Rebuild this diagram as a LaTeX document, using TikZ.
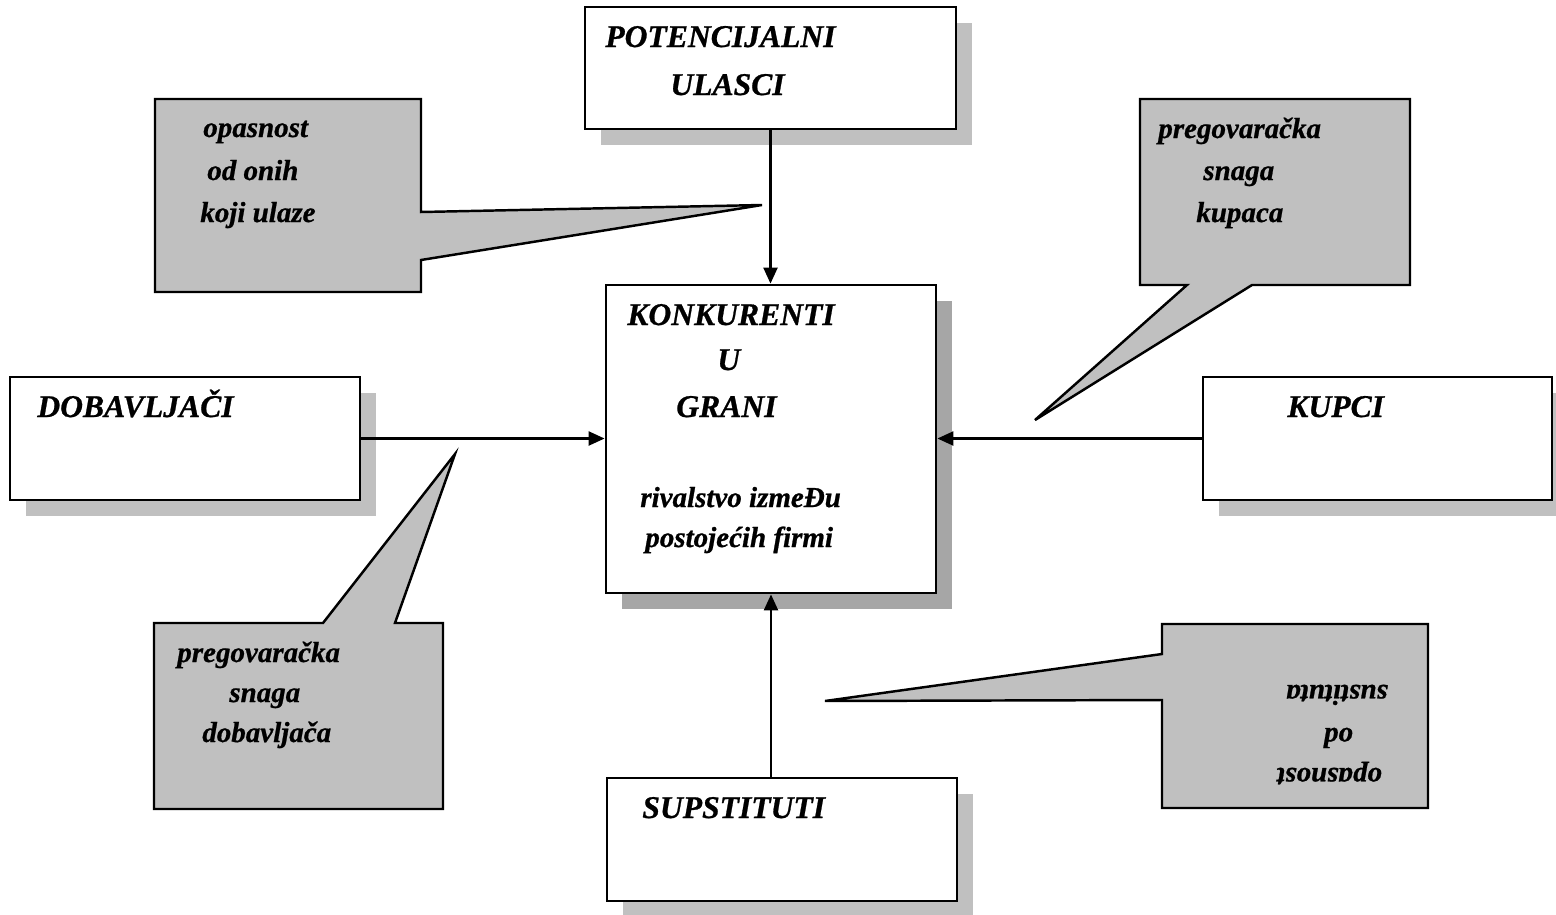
\documentclass[tikz,border=0pt]{standalone}
\usepackage{fontspec}
\setmainfont{Liberation Serif}[BoldItalicFeatures={FakeBold=0.8}]
\usetikzlibrary{fit,shadows,arrows.meta}
\definecolor{lightshade}{HTML}{C0C0C0}
\definecolor{darkshade}{HTML}{A6A6A6}
\begin{document}
\begin{tikzpicture}[x=0.02cm,y=-0.02cm,
	frame/.style={draw,fill=white,line width=1.6pt,inner sep=0pt,
		drop shadow={shadow xshift=0.32cm,shadow yshift=-0.32cm,opacity=1,fill=#1}},
	frame/.default=lightshade,
	caps/.style={anchor=base west,inner sep=0pt,font=\fontsize{18}{20}\selectfont\bfseries\itshape},
	lower/.style={anchor=base west,inner sep=0pt,font=\fontsize{16.5}{19}\selectfont\bfseries\itshape},
	arr/.style={line width=1.3pt,-{Triangle[length=0.32cm,width=0.28cm]}},
	bubble/.style={draw,fill=lightshade,line width=1.4pt}]
				\useasboundingbox (0,0) rectangle (1556,914);
				\filldraw[bubble] (155,99) -- (421,99) -- (421,212) -- (762,205) coordinate (tipA)
					-- (421,260) -- (421,292) -- (155,292) -- cycle;
				\filldraw[bubble] (1140,99) -- (1410,99) -- (1410,285) -- (1252,285) -- (1035,420) coordinate (tipB)
					-- (1187,285) -- (1140,285) -- cycle;
				\filldraw[bubble] (154,623) -- (323,623) -- (455,454) coordinate (tipC) -- (395,623)
					-- (443,623) -- (443,809) -- (154,809) -- cycle;
				\filldraw[bubble] (1162,624) -- (1428,624) -- (1428,808) -- (1162,808) -- (1162,700)
					-- (825,701) coordinate (tipD) -- (1162,654) -- cycle;
				\node[frame,fit={(585,7) (956,129)}] (pot) {};
				\node[frame=darkshade,fit={(606,285) (936,593)}] (kon) {};
				\node[frame,fit={(10,377) (360,500)}] (dob) {};
				\node[frame,fit={(1203,377) (1552,500)}] (kup) {};
				\node[frame,fit={(607,778) (957,901)}] (sup) {};
				\node[caps] (potA) at (605,47) {POTENCIJALNI};
				\node[caps] (potB) at (670,95) {ULASCI};
				\node[caps] (konA) at (627,325) {KONKURENTI};
				\node[caps] (konB) at (717,370) {U};
				\node[caps] (konC) at (676,417) {GRANI};
				\node[lower] (konD) at (640,507) {rivalstvo izmeĐu};
				\node[lower] (konE) at (645,547) {postojećih firmi};
				\node[caps] (dobA) at (37,417) {DOBAVLJAČI};
				\node[caps] (kupA) at (1287,417) {KUPCI};
				\node[caps] (supA) at (642,818) {SUPSTITUTI};
				\node[lower] (opA) at (203,137) {opasnost};
				\node[lower] (opB) at (207,180) {od onih};
				\node[lower] (opC) at (200,222) {koji ulaze};
				\node[lower] (kpA) at (1158,138) {pregovaračka};
				\node[lower] (kpB) at (1203,180) {snaga};
				\node[lower] (kpC) at (1196,222) {kupaca};
				\node[lower] (dpA) at (177,662) {pregovaračka};
				\node[lower] (dpB) at (229,702) {snaga};
				\node[lower] (dpC) at (202,742) {dobavljača};
				\node[lower,rotate=180] (spA) at (1382,768) {opasnost};
				\node[lower,rotate=180] (spB) at (1353,728) {od};
				\node[lower,rotate=180] (spC) at (1388,685) {sustituta};
				\draw[arr] (pot.south) -- (pot.south |- kon.north);
				\draw[arr] (dob.east) -- (dob.east -| kon.west);
				\draw[arr] (kup.west) -- (kup.west -| kon.east);
				\draw[arr] (kon.south |- sup.north) -- (kon.south);
			\end{tikzpicture}
\end{document}
